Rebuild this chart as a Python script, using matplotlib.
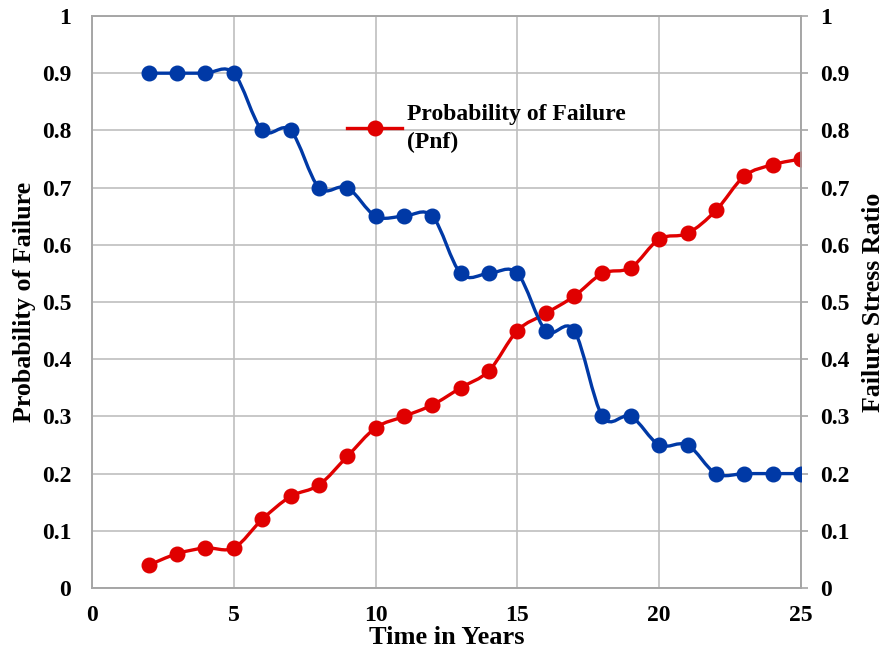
import matplotlib
matplotlib.use("Agg")
import matplotlib.pyplot as plt
from matplotlib.path import Path
from matplotlib.patches import PathPatch
from matplotlib.lines import Line2D

years = [2, 3, 4, 5, 6, 7, 8, 9, 10, 11, 12, 13, 14, 15, 16, 17, 18, 19, 20, 21, 22, 23, 24, 25]
pnf = [0.04, 0.06, 0.07, 0.07, 0.12, 0.16, 0.18, 0.23, 0.28, 0.30, 0.32, 0.35, 0.38, 0.45,
       0.48, 0.51, 0.55, 0.56, 0.61, 0.62, 0.66, 0.72, 0.74, 0.75]
stress_ratio = [0.9, 0.9, 0.9, 0.9, 0.8, 0.8, 0.7, 0.7, 0.65, 0.65, 0.65, 0.55, 0.55, 0.55,
                0.45, 0.45, 0.3, 0.3, 0.25, 0.25, 0.2, 0.2, 0.2, 0.2]

RED = "#E00000"
BLUE = "#0039A6"
FONT = "Liberation Serif"


def smooth_path(xs, ys):
    # Excel-style smoothed line: cubic bezier through every point
    n = len(xs)
    verts = [(xs[0], ys[0])]
    codes = [Path.MOVETO]
    for i in range(n - 1):
        x0, y0 = (xs[i - 1], ys[i - 1]) if i > 0 else (xs[i], ys[i])
        x3, y3 = (xs[i + 2], ys[i + 2]) if i + 2 < n else (xs[i + 1], ys[i + 1])
        c1 = (xs[i] + (xs[i + 1] - x0) / 6, ys[i] + (ys[i + 1] - y0) / 6)
        c2 = (xs[i + 1] - (x3 - xs[i]) / 6, ys[i + 1] - (y3 - ys[i]) / 6)
        verts += [c1, c2, (xs[i + 1], ys[i + 1])]
        codes += [Path.CURVE4] * 3
    return Path(verts, codes)


plt.rcParams["font.family"] = FONT
plt.rcParams["font.weight"] = "bold"

fig = plt.figure(figsize=(8.91, 6.5), dpi=100)
ax = fig.add_axes([0.1033, 0.0954, 0.7957, 0.88])
ax2 = ax.twinx()

ax.set_xlim(0, 25)
ax.set_ylim(0, 1)
ax2.set_ylim(0, 1)
ax.set_xticks(range(0, 26, 5))
ticks = [i / 10 for i in range(11)]
ax.set_yticks(ticks)
ax2.set_yticks(ticks)
labels = ["0"] + [f"{t:.1f}" for t in ticks[1:-1]] + ["1"]
ax.set_yticklabels(labels)
ax2.set_yticklabels(labels)

ax.grid(True, color="#BFBFBF", linewidth=1.2)
ax.set_axisbelow(True)
for a in (ax, ax2):
    for s in a.spines.values():
        s.set_color("#A6A6A6")
        s.set_linewidth(1.2)
    a.tick_params(labelsize=17, colors="#A6A6A6", labelcolor="black")
ax.tick_params(axis="y", length=0, pad=15)
ax.tick_params(axis="x", length=0, pad=12)
ax2.tick_params(axis="y", length=5, width=1.2, pad=9)

ax.add_patch(PathPatch(smooth_path(years, pnf), fill=False, edgecolor=RED, linewidth=2.4, zorder=3))
ax.plot(years, pnf, linestyle="none", marker="o", markersize=10.5, color=RED, zorder=4)
ax2.add_patch(PathPatch(smooth_path(years, stress_ratio), fill=False, edgecolor=BLUE, linewidth=2.4, zorder=3))
ax2.plot(years, stress_ratio, linestyle="none", marker="o", markersize=10.5, color=BLUE, zorder=4)

ax.set_xlabel("Time in Years", fontsize=19, fontweight="bold", labelpad=0)
ax.set_ylabel("Probability of Failure", fontsize=18.7, fontweight="bold", labelpad=4)
ax2.set_ylabel("Failure Stress Ratio", fontsize=18.6, fontweight="bold", labelpad=9)

handle = Line2D([], [], color=RED, linewidth=2.4, marker="o", markersize=10.5)
leg = ax.legend([handle], ["Probability of Failure\n(Pnf)"], loc="upper left",
                bbox_to_anchor=(0.347, 0.862), frameon=False, fontsize=17,
                handlelength=2.3, handletextpad=0.2, borderaxespad=0)
leg.get_texts()[0].set_fontweight("bold")
leg.get_texts()[0].set_linespacing(1.4)
leg._legend_box.align = "left"

fig.savefig("out.png", dpi=100)
